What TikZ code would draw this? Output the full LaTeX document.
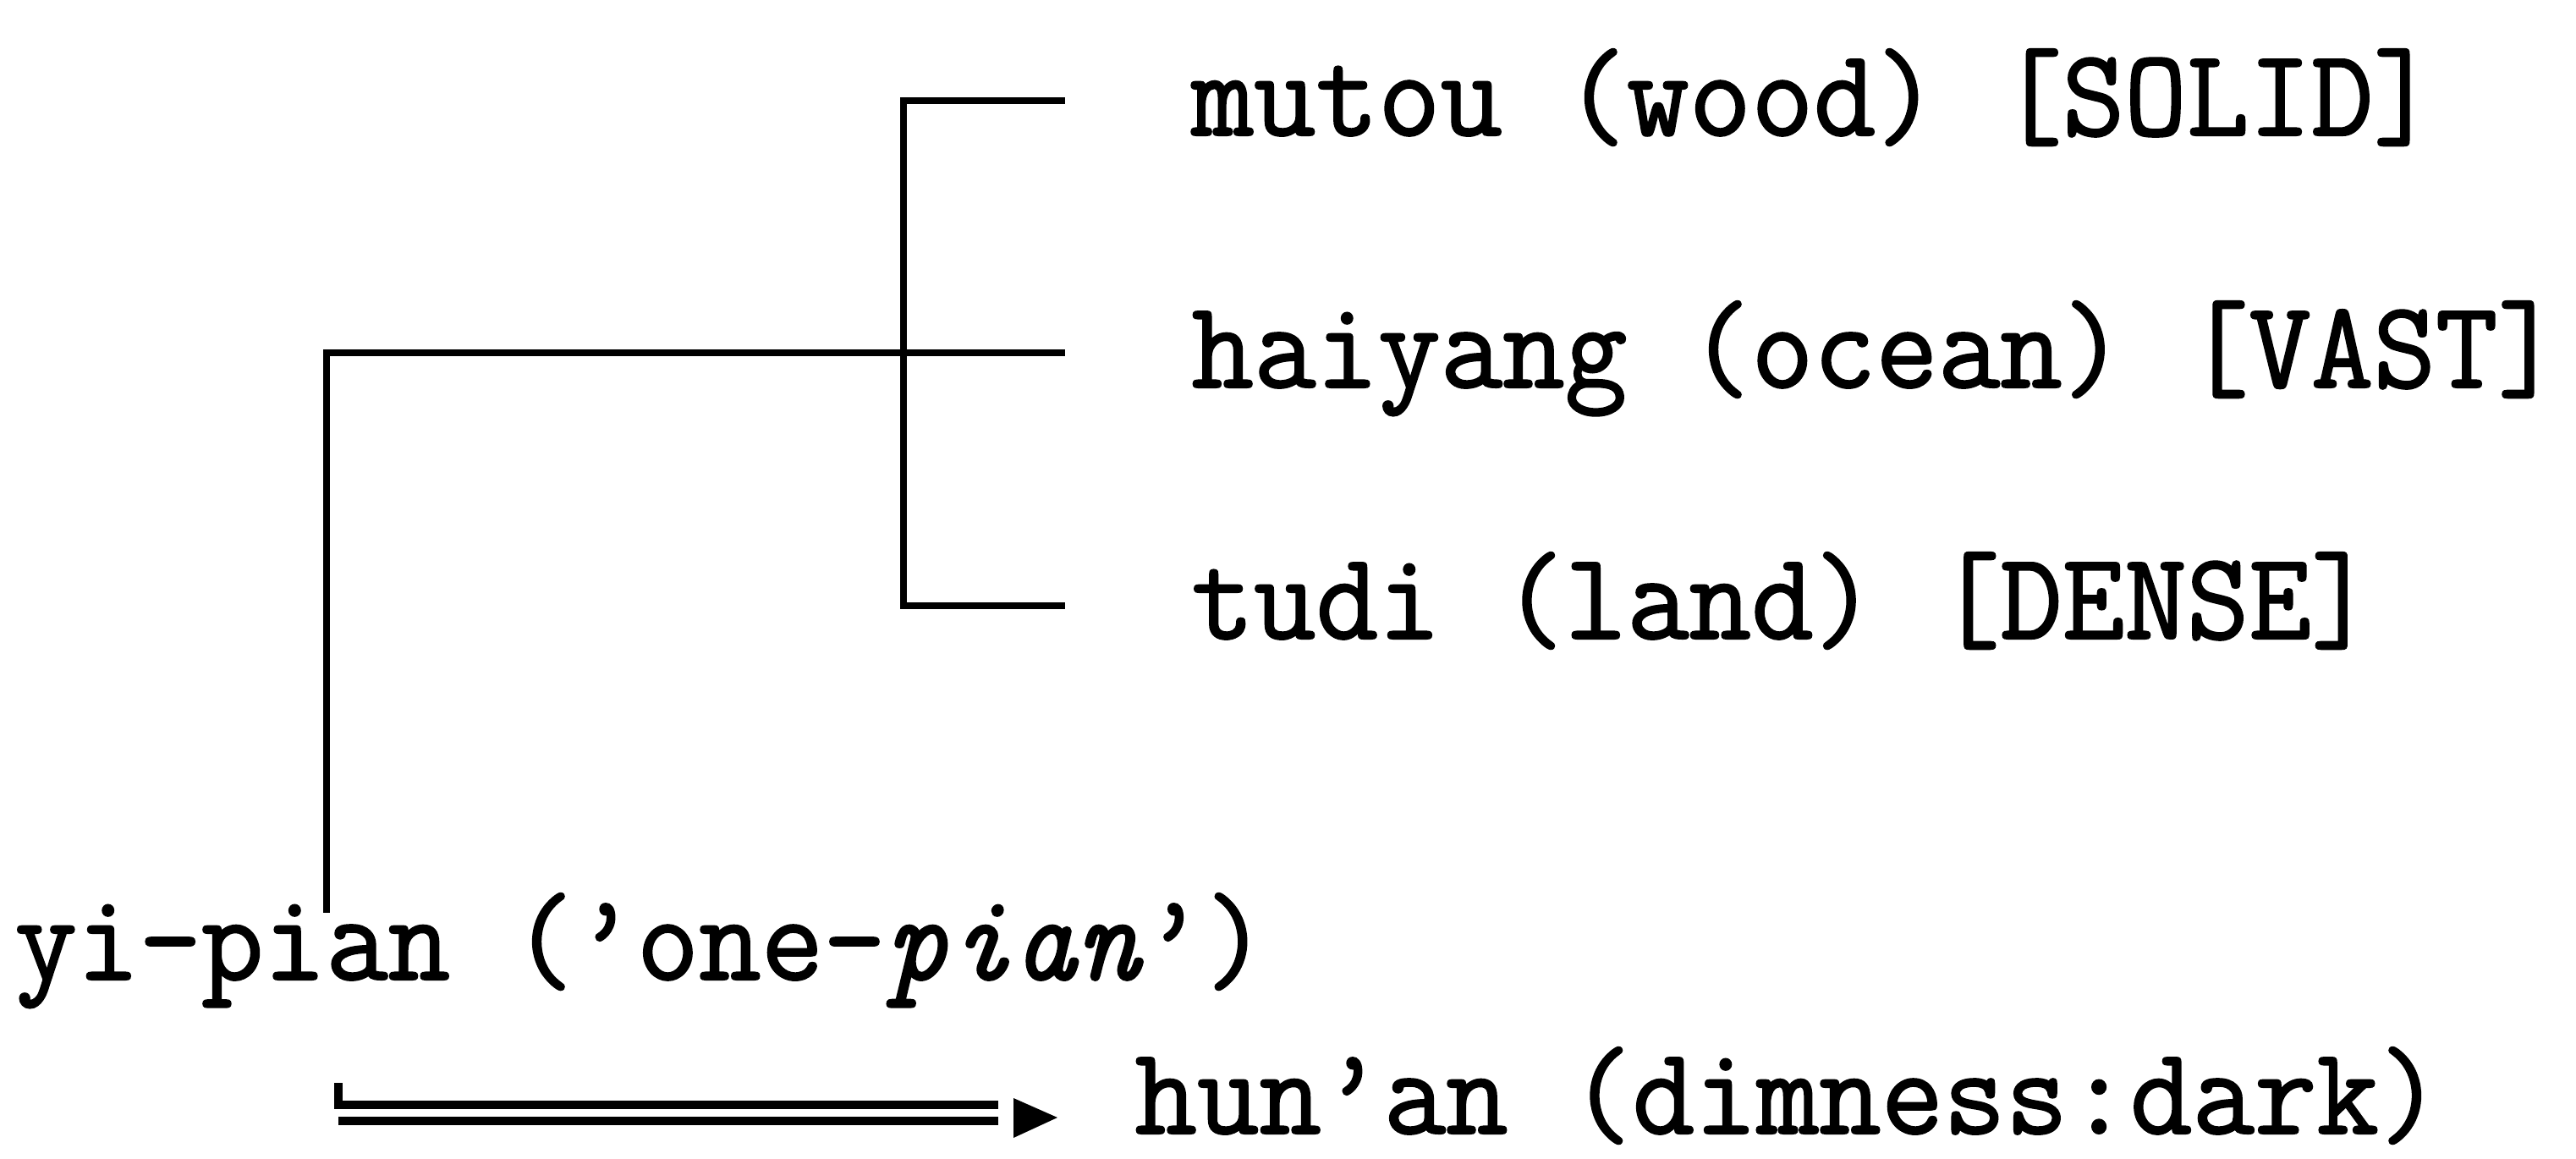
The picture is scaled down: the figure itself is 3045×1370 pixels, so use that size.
\documentclass[tikz,border=0pt]{standalone}
\usepackage{fontspec}
\newfontfamily\tw[FakeStretch=0.97,FakeBold=1.4]{Latin Modern Mono}
\begin{document}
\begin{tikzpicture}[x=0.25pt,y=-0.25pt,line width=1.75pt]
\tikzset{
  lbl/.style={anchor=base west,inner sep=0pt,font=\tw\fontsize{36.8pt}{40pt}\selectfont},
  link/.style={line width=1.9pt,line cap=rect},
  dbl/.style={line width=2.3pt}
}
\useasboundingbox (0,0) rectangle (3045,1370);
% labels
\node[lbl] (mutou) at (1405,160) {mutou (wood) [SOLID]};
\node[lbl] (haiyang) at (1405,458) {haiyang (ocean) [VAST]};
\node[lbl] (tudi) at (1405,755) {tudi (land) [DENSE]};
\node[lbl] (yipian) at (14,1158) {yi-pian (’one-\textit{pian}’)};
\node[lbl] (hunan) at (1338,1340) {hun’an (dimness:dark)};
% bracket coordinates
\coordinate (bT) at (1068,119);
\coordinate (bM) at (1068,417);
\coordinate (bB) at (1068,716);
\coordinate (eT) at (1255,119);
\coordinate (eM) at (1255,417);
\coordinate (eB) at (1255,716);
\coordinate (lTop) at (386,417);
\coordinate (lBot) at (386,1075);
\draw[link] (eT) -- (bT) -- (bB) -- (eB);
\draw[link] (lBot) -- (lTop) -- (eM);
% double arrow
\coordinate (aS) at (400,1280);
\coordinate (aU) at (1180,1306);
\coordinate (aL) at (1180,1325);
\draw[dbl] (aS) |- (aU);
\draw[dbl] (aS |- aL) -- (aL);
\coordinate (tip) at (1250,1321);
\fill (1198,1298) -- (tip) -- (1198,1345) -- cycle;
\end{tikzpicture}
\end{document}
